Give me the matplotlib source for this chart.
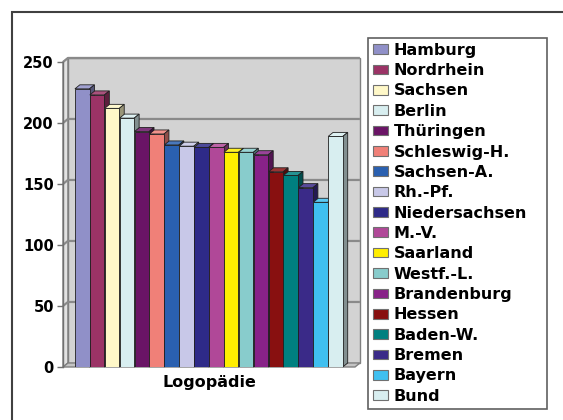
import numpy as np
import matplotlib
matplotlib.use("Agg")
import matplotlib.pyplot as plt
from matplotlib.patches import Polygon, Rectangle, Patch
from matplotlib.colors import to_rgb

# Data
laender = ["Hamburg", "Nordrhein", "Sachsen", "Berlin", "Thüringen", "Schleswig-H.",
           "Sachsen-A.", "Rh.-Pf.", "Niedersachsen", "M.-V.", "Saarland", "Westf.-L.",
           "Brandenburg", "Hessen", "Baden-W.", "Bremen", "Bayern", "Bund"]
werte = [228, 223, 212, 204, 193, 191, 182, 181, 180, 180, 176, 176, 174, 160, 157, 147, 135, 189]
farben = ["#9090c8", "#9b3366", "#fff8c8", "#d8eef0", "#6a1466", "#f08078",
          "#2a60b0", "#c8c8e8", "#2e2a88", "#b04898", "#ffee00", "#88cccc",
          "#882288", "#881010", "#008080", "#3a2a88", "#40c0f0", "#d8eef0"]
kategorie = "Logopädie"
y_ticks = [0, 50, 100, 150, 200, 250]

W, H = 563, 420
plt.rcParams["font.family"] = ["DejaVu Sans"]
plt.rcParams["font.weight"] = "bold"

fig = plt.figure(figsize=(W / 100, H / 100), dpi=100)
fig.patch.set_facecolor("white")

ax = fig.add_axes([63 / W, (H - 367) / H, (355 - 63) / W, (367 - 62) / H])
ax.set_facecolor("none")
x0, x1 = -0.8, 18.8
ax.set_xlim(x0, x1)
ax.set_ylim(0, 250)

# depth offset of the pseudo-3D box (data units)
dx, dy = 0.33, 3.3
wall_edge = "#808080"

# back wall, left wall and floor
ax.add_patch(Rectangle((x0 + dx, dy), x1 - x0, 250, facecolor="#d3d3d3",
                       edgecolor=wall_edge, lw=1.0, zorder=0, clip_on=False))
ax.add_patch(Polygon([(x0, 0), (x0 + dx, dy), (x0 + dx, 250 + dy), (x0, 250)],
                     closed=True, facecolor="#e2e2e2", edgecolor=wall_edge,
                     lw=1.0, zorder=0.2, clip_on=False))
ax.add_patch(Polygon([(x0, 0), (x1, 0), (x1 + dx, dy), (x0 + dx, dy)],
                     closed=True, facecolor="#c4c4c4", edgecolor=wall_edge,
                     lw=1.0, zorder=0.2, clip_on=False))

# grid lines on the walls
for v in y_ticks[1:]:
    ax.plot([x0, x0 + dx, x1 + dx], [v, v + dy, v + dy], color="#8a8a8a",
            lw=1.6, zorder=0.5, clip_on=False, solid_capstyle="butt")


def shade(c, f):
    r, g, b = to_rgb(c)
    return (r * f, g * f, b * f)


def tint(c, f):
    r, g, b = to_rgb(c)
    return (r + (1 - r) * f, g + (1 - g) * f, b + (1 - b) * f)


pos = np.arange(len(werte))
bw = 0.98
bars = ax.bar(pos, werte, width=bw, align="edge", color=farben,
              edgecolor="#202020", lw=0.6)
for i, (rect, v, c) in enumerate(zip(bars, werte, farben)):
    z = 2 + i * 0.01
    rect.set_zorder(z + 0.005)
    x = rect.get_x()
    top = Polygon([(x, v), (x + dx, v + dy), (x + bw + dx, v + dy), (x + bw, v)],
                  closed=True, facecolor=tint(c, 0.15), edgecolor="#202020",
                  lw=0.6, zorder=z, clip_on=False)
    side = Polygon([(x + bw, 0), (x + bw, v), (x + bw + dx, v + dy), (x + bw + dx, dy)],
                   closed=True, facecolor=shade(c, 0.6), edgecolor="#202020",
                   lw=0.6, zorder=z, clip_on=False)
    ax.add_patch(top)
    ax.add_patch(side)

# axes styling
for s in ["top", "right", "bottom"]:
    ax.spines[s].set_visible(False)
ax.spines["left"].set_color("#707070")
ax.spines["left"].set_linewidth(1.0)
ax.set_yticks(y_ticks)
ax.set_yticklabels([str(t) for t in y_ticks], fontsize=10.5, fontweight="bold")
ax.tick_params(axis="y", direction="out", length=4.5, width=1.0, color="#707070", pad=2)
ax.set_xticks([])
ax.set_xlabel(kategorie, fontsize=11.5, fontweight="bold", labelpad=6)

# legend
handles = [Patch(facecolor=c, edgecolor="#707070", lw=0.8) for c in farben]
leg = fig.legend(handles, laender, loc="upper left",
                 bbox_to_anchor=(368 / W, 1 - 38 / H, (547 - 368) / W, 0.0),
                 mode="expand",
                 prop={"size": 11.5, "weight": "bold"},
                 frameon=True, fancybox=False, framealpha=1,
                 edgecolor="#606060", borderpad=0.3, labelspacing=0.335,
                 handlelength=0.95, handleheight=0.55, handletextpad=0.35,
                 borderaxespad=0)
leg.get_frame().set_linewidth(1.2)

# outer border of the chart area
fig.patches.append(Rectangle((12 / W, -0.1), 2, 1.1 - 12 / H, transform=fig.transFigure,
                             fill=False, edgecolor="#404040", lw=1.5))

fig.savefig("out.png", dpi=100)
